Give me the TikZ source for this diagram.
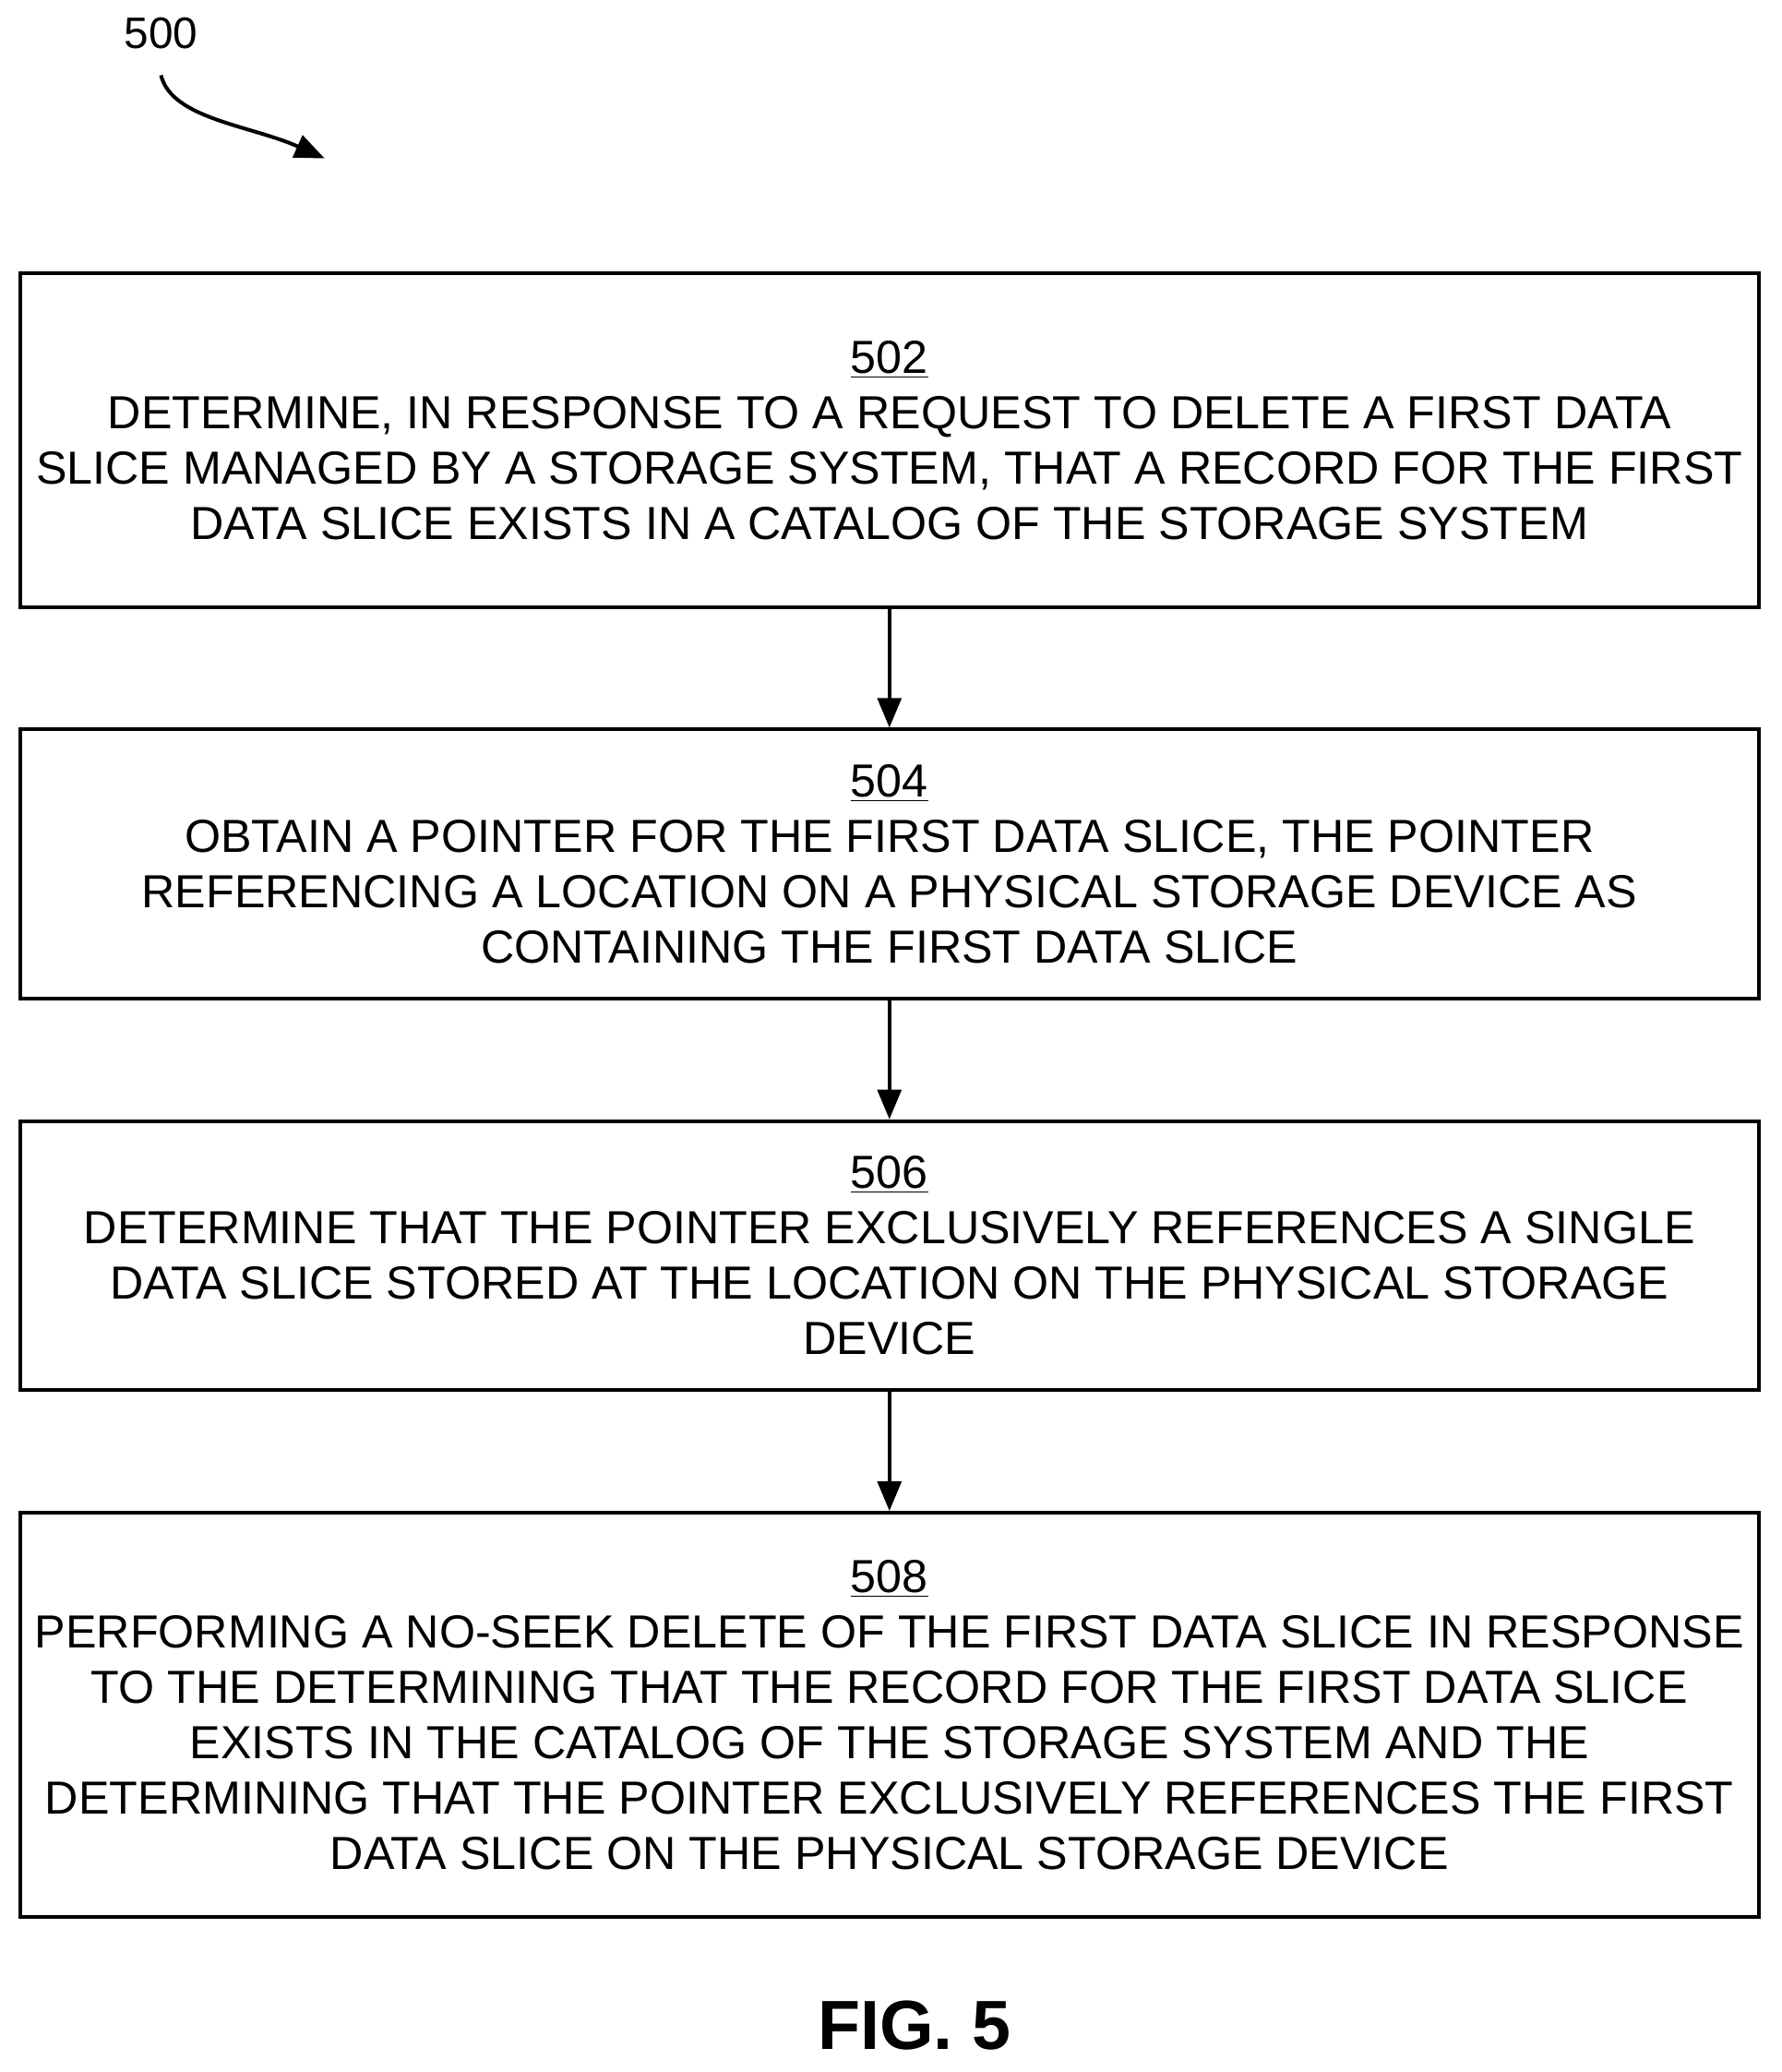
\documentclass[tikz,border=0pt]{standalone}
\usepackage{fontspec}
\setmainfont{Liberation Sans}
\usetikzlibrary{positioning,arrows.meta}

\begin{document}
\begin{tikzpicture}[
    x=0.02cm, y=-0.02cm,
    node distance=1.80cm,
    process/.style={rectangle, draw, line width=1.6pt, minimum width=26.36cm, align=center,
        font=\fontsize{20}{23.9}\selectfont},
    arrow/.style={-{Triangle[length=4.5mm, width=3.6mm]}, line width=1.6pt}
]
    \useasboundingbox (0,0) rectangle (1350,1570);

    \node[font=\fontsize{19}{23}\selectfont] (label) at (122,25) {500};
    \coordinate (labeltip) at (246,120);
    \draw[arrow] (122,57) .. controls (130,90) and (190,95) .. (labeltip);

    \node[process, minimum height=5.06cm] (determine) at (674,333.5)
        {\underline{502}\\DETERMINE, IN RESPONSE TO A REQUEST TO DELETE A FIRST DATA\\
        SLICE MANAGED BY A STORAGE SYSTEM, THAT A RECORD FOR THE FIRST\\
        DATA SLICE EXISTS IN A CATALOG OF THE STORAGE SYSTEM};
    \node[process, minimum height=4.08cm, below=of determine] (obtain)
        {\underline{504}\\OBTAIN A POINTER FOR THE FIRST DATA SLICE, THE POINTER\\
        REFERENCING A LOCATION ON A PHYSICAL STORAGE DEVICE AS\\
        CONTAINING THE FIRST DATA SLICE};
    \node[process, minimum height=4.08cm, below=of obtain] (exclusive)
        {\underline{506}\\DETERMINE THAT THE POINTER EXCLUSIVELY REFERENCES A SINGLE\\
        DATA SLICE STORED AT THE LOCATION ON THE PHYSICAL STORAGE\\
        DEVICE};
    \node[process, minimum height=6.12cm, below=of exclusive] (delete)
        {\underline{508}\\PERFORMING A NO-SEEK DELETE OF THE FIRST DATA SLICE IN RESPONSE\\
        TO THE DETERMINING THAT THE RECORD FOR THE FIRST DATA SLICE\\
        EXISTS IN THE CATALOG OF THE STORAGE SYSTEM AND THE\\
        DETERMINING THAT THE POINTER EXCLUSIVELY REFERENCES THE FIRST\\
        DATA SLICE ON THE PHYSICAL STORAGE DEVICE};

    \node[font=\bfseries\fontsize{30}{34}\selectfont] (fig) at (693,1535) {FIG. 5};

    \draw[arrow] (determine) -- (obtain);
    \draw[arrow] (obtain) -- (exclusive);
    \draw[arrow] (exclusive) -- (delete);
\end{tikzpicture}
\end{document}
